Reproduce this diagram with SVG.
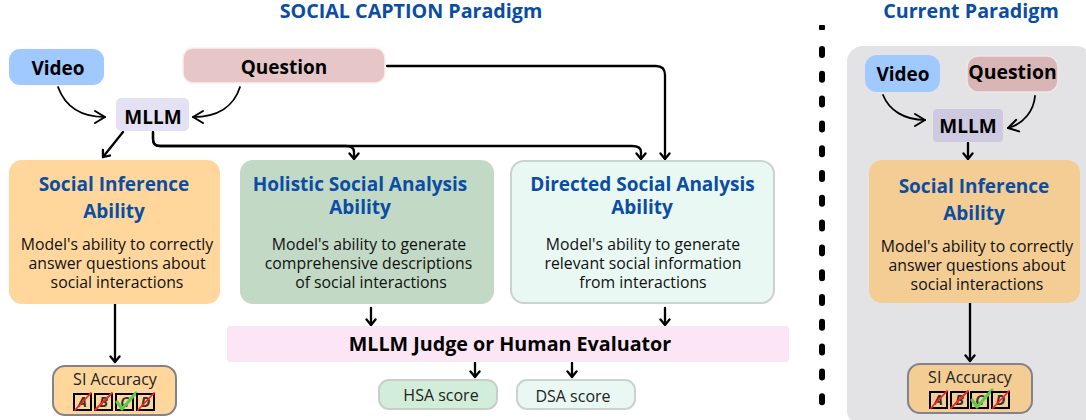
<svg xmlns="http://www.w3.org/2000/svg" width="1086" height="420" viewBox="0 0 1086 420">
<style>
text{font-family:"Open Sans","Noto Sans",sans-serif;text-anchor:middle;fill:#000}
.title{font-size:19.7px;font-weight:700;fill:#0b4da2}
.h{font-size:19px;font-weight:700;fill:#0b4da2}
.b{font-size:15.8px;font-weight:400;fill:#111}
.n{font-size:19px;font-weight:700}
.s{font-size:16px;fill:#222}
.c{fill:none;stroke:#000;stroke-width:2.3;stroke-linecap:round;stroke-linejoin:round}
.t{fill:none;stroke:#000;stroke-width:1.8;stroke-linecap:round;stroke-linejoin:round}
.k{fill:none;stroke:#000;stroke-width:2}
.kt{font-size:14px;font-weight:700;font-style:italic;fill:#333}
.x{stroke:#f22;stroke-width:1.8;stroke-linecap:round}
.v{fill:none;stroke:#5cc94a;stroke-width:3.2;stroke-linecap:round;stroke-linejoin:round}
</style>
<defs>
<marker id="a" markerUnits="userSpaceOnUse" markerWidth="16" markerHeight="16" refX="13" refY="8" orient="auto"><path d="M3 2 L13 8 L3 14" fill="none" stroke="#000" stroke-width="2" stroke-linecap="round" stroke-linejoin="round"/></marker>
<marker id="as" markerUnits="userSpaceOnUse" markerWidth="12" markerHeight="12" refX="9" refY="6" orient="auto"><path d="M3.5 1.500 L9 6 L3.500 10.500" fill="none" stroke="#000" stroke-width="2.3" stroke-linecap="round" stroke-linejoin="round"/></marker>
</defs>

<text class="title" x="411" y="18">SOCIAL CAPTION Paradigm</text>
<text class="title" x="971" y="18">Current Paradigm</text>
<rect x="819" y="25" width="6" height="5" rx="1" fill="#000"/>
<line x1="822" y1="49" x2="822" y2="420" stroke="#000" stroke-width="6" stroke-linecap="round" stroke-dasharray="6 18.8"/>
<rect x="847" y="46" width="245" height="380" rx="16" fill="#e3e3e6"/>

<g id="connectors">
<path class="t" d="M58 87 C65 106 80 117 105 117" marker-end="url(#a)"/>
<path class="t" d="M240 87 C234 106 218 117 193 117" marker-end="url(#a)"/>
<path class="c" d="M123 132 L103 157" marker-end="url(#as)"/>
<path class="c" d="M153 132 V139 Q153 146 160 146 H346 Q354 146 354 152 V159" marker-end="url(#as)"/>
<path class="c" d="M153 132 V139 Q153 146 160 146 H632 Q641 146 641 152 V159" marker-end="url(#as)"/>
<path class="c" d="M387 66 H656 Q665 66 665 75 V159" marker-end="url(#as)"/>
<path class="c" d="M115 304 V362" marker-end="url(#as)"/>
<path class="c" d="M371 308 V325" marker-end="url(#as)"/>
<path class="c" d="M665 308 V325" marker-end="url(#as)"/>
<path class="c" d="M475 363 V377" marker-end="url(#as)"/>
<path class="c" d="M572 363 V377" marker-end="url(#as)"/>
<path class="t" d="M883 95 C889 110 904 120 925 120" marker-end="url(#a)"/>
<path class="t" d="M1035 96 C1034 110 1024 124 1008 128" marker-end="url(#a)"/>
<path class="c" d="M968 143 V159" marker-end="url(#as)"/>
<path class="c" d="M970 303 V361" marker-end="url(#as)"/>
</g>

<g id="video"><rect x="9" y="49" width="95" height="36" rx="11" fill="#9fc9ff"/><text class="n" x="58" y="74.500">Video</text></g>
<g id="question"><rect x="183" y="48" width="202" height="35" rx="10" fill="#e6c6c6" stroke="#faeeee" stroke-width="1.5"/><text class="n" x="284" y="73.500">Question</text></g>
<g id="mllm"><rect x="116" y="98" width="73" height="33" rx="5" fill="#e5e1f5"/><text class="n" x="153" y="123.500">MLLM</text></g>

<g id="si"><rect x="9" y="160" width="211" height="144" rx="13" fill="#ffd79c"/>
<text class="h" x="114" y="191">Social Inference</text><text class="h" x="114" y="218">Ability</text>
<text class="b" x="117" y="250">Model's ability to correctly</text><text class="b" x="117" y="269">answer questions about</text><text class="b" x="117" y="288">social interactions</text></g>

<g id="hsa"><rect x="240" y="160" width="254" height="144" rx="13" fill="#c2d9c5"/>
<text class="h" x="360" y="191">Holistic Social Analysis</text><text class="h" x="360" y="214">Ability</text>
<text class="b" x="369" y="250">Model's ability to generate</text><text class="b" x="368.500" y="269">comprehensive descriptions</text><text class="b" x="371" y="288">of social interactions</text></g>

<g id="dsa"><rect x="511" y="161" width="263" height="142" rx="13" fill="#e9f8f3" stroke="#c9d3cf" stroke-width="2"/>
<text class="h" x="642.500" y="191">Directed Social Analysis</text><text class="h" x="642" y="214">Ability</text>
<text class="b" x="643" y="250">Model's ability to generate</text><text class="b" x="643" y="269">relevant social information</text><text class="b" x="643" y="288">from interactions</text></g>

<g id="judge"><rect x="227" y="326" width="562" height="36" rx="3" fill="#fce6f5"/><text class="n" x="510" y="351" style="font-size:19.7px">MLLM Judge or Human Evaluator</text></g>

<g id="si-accuracy"><rect x="53" y="366" width="123" height="49" rx="12" fill="#ffd79c" stroke="#82828c" stroke-width="2"/>
<text class="s" x="115" y="385">SI Accuracy</text>
<rect class="k" x="74" y="394" width="17" height="16"/><text class="kt" x="82.500" y="407">A</text><line class="x" x1="75" y1="410" x2="91" y2="393"/>
<rect class="k" x="95" y="394" width="17" height="16"/><text class="kt" x="103.500" y="407">B</text><line class="x" x1="95" y1="410" x2="112" y2="393"/>
<rect class="k" x="116" y="394" width="17" height="16"/><text class="kt" x="124.500" y="407">C</text><path class="v" d="M117 402 L122 409 L136 393"/>
<rect class="k" x="137" y="394" width="17" height="16"/><text class="kt" x="145.500" y="407">D</text><line class="x" x1="138" y1="410" x2="154" y2="393"/></g>

<g id="hsa-score"><rect x="379" y="380" width="118" height="29" rx="10" fill="#d3eddb" stroke="#c8cfca" stroke-width="2"/><text class="s" x="441" y="401">HSA score</text></g>
<g id="dsa-score"><rect x="517" y="380" width="118" height="29" rx="10" fill="#e9f8f3" stroke="#ccd2d0" stroke-width="2"/><text class="s" x="573" y="402">DSA score</text></g>

<g id="video2"><rect x="865" y="55" width="75" height="37" rx="12" fill="#9fc9ff"/><text class="n" x="903" y="80.500">Video</text></g>
<g id="question2"><rect x="967" y="56" width="91" height="36" rx="11" fill="#d8b6b6" stroke="#f0e6e6" stroke-width="1.5"/><text class="n" x="1012.500" y="79" style="font-size:19.400px">Question</text></g>
<g id="mllm2"><rect x="933" y="109" width="70" height="33" rx="4" fill="#cdc9e0"/><text class="n" x="968" y="133">MLLM</text></g>

<g id="si2"><rect x="869" y="160" width="211" height="143" rx="13" fill="#f3cd94"/>
<text class="h" x="974" y="193">Social Inference</text><text class="h" x="974" y="220">Ability</text>
<text class="b" x="977" y="252">Model's ability to correctly</text><text class="b" x="977" y="271">answer questions about</text><text class="b" x="977" y="290">social interactions</text></g>

<g id="si-accuracy2"><rect x="908" y="364" width="124" height="49" rx="12" fill="#f3cd94" stroke="#82828c" stroke-width="2"/>
<text class="s" x="970" y="383">SI Accuracy</text>
<rect class="k" x="930" y="392" width="17" height="16"/><text class="kt" x="938.500" y="405">A</text><line class="x" x1="931" y1="408" x2="947" y2="391"/>
<rect class="k" x="951" y="392" width="17" height="16"/><text class="kt" x="959.500" y="405">B</text><line class="x" x1="951" y1="408" x2="968" y2="391"/>
<rect class="k" x="971" y="392" width="17" height="16"/><text class="kt" x="979.500" y="405">C</text><path class="v" d="M972 400 L977 407 L992 390"/>
<rect class="k" x="992" y="392" width="17" height="16"/><text class="kt" x="1000.500" y="405">D</text><line class="x" x1="993" y1="408" x2="1009" y2="391"/></g>
</svg>
